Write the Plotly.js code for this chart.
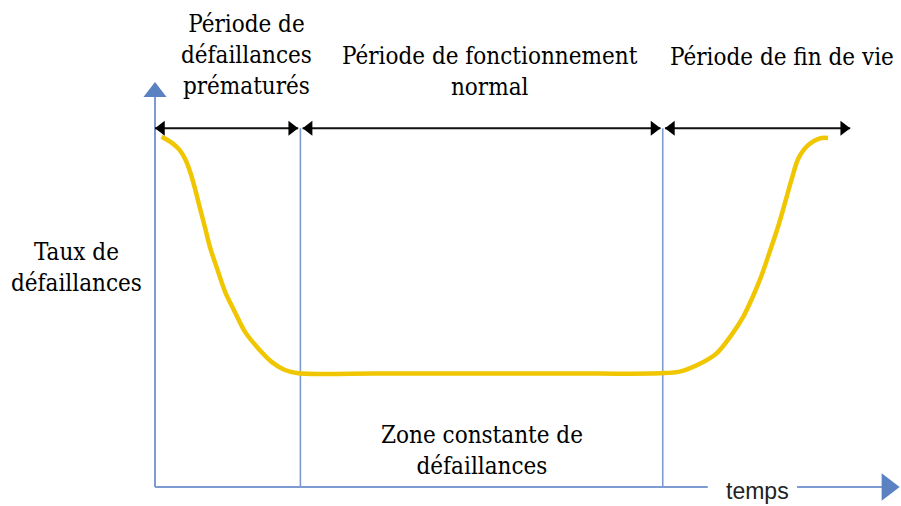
<!DOCTYPE html>
<html>
<head>
<meta charset="utf-8">
<script src="https://cdn.plot.ly/plotly-3.0.1.min.js"></script>
<style>
  html, body { margin: 0; padding: 0; background: #fff; }
  #bathtub { width: 901px; height: 506px; }
</style>
</head>
<body>
<div id="bathtub"></div>
<script>
// Failure rate curve (time and rate in arbitrary units, 0..100)
var curveTime = [0.9, 2.2, 3.3, 4.1, 4.8, 5.4, 6.1, 6.8, 7.5, 8.4, 9.5, 10.8, 12.2, 14.0, 15.8, 17.6, 19.4,
                 30.0, 44.0, 57.0,
                 68.4, 71.1, 73.9, 76.1, 78.1, 79.7, 81.1, 82.2, 83.3, 84.5, 85.4, 86.3, 87.2, 88.5, 90.1, 91.2];
var curveRate = [86.5, 85.1, 83.3, 80.9, 77.6, 73.8, 68.8, 63.9, 58.9, 54.0, 48.2, 43.3, 38.3, 34.2, 30.9, 28.9, 28.1,
                 28.0, 28.0, 28.0,
                 28.1, 28.5, 30.5, 33.0, 37.5, 42.0, 47.4, 52.3, 58.1, 64.7, 70.4, 76.2, 81.2, 84.4, 86.1, 86.2];

// limits of the three periods (early failures, normal use, end of life)
var periodEdges = [0, 19.7, 68.8, 94.2];
var periodRowRate = 88.6;

// pixels per unit, to place the arrow heads by their tips
var pxX = 7.38, pxY = 4.05;

var axisBlue = '#7d9bd0';
var headBlue = '#5a82c2';

// black double arrows over each period
var arrowX = [], arrowY = [], leftX = [], rightX = [], headY = [];
var gap = 0.3, headSize = 13, headR = headSize / 2;
for (var i = 0; i < periodEdges.length - 1; i++) {
  var a = periodEdges[i] + (i === 0 ? 0 : gap);
  var b = periodEdges[i + 1] - (i === periodEdges.length - 2 ? 0 : gap);
  arrowX.push(a, b, null);
  arrowY.push(periodRowRate, periodRowRate, null);
  leftX.push(a + headR / pxX);
  rightX.push(b - headR / pxX);
  headY.push(periodRowRate);
}

var yTip = 100, xTip = 100.9;
var data = [
  // vertical period separators
  {
    x: [periodEdges[1], periodEdges[1], null, periodEdges[2], periodEdges[2]],
    y: [0, periodRowRate, null, 0, periodRowRate],
    mode: 'lines', line: {color: axisBlue, width: 1.6}
  },
  // axes (x axis broken around the "temps" label)
  {
    x: [0, 0, null, 0, 74.9, null, 87.0, xTip - 16 / pxX],
    y: [yTip - 14 / pxY, 0, null, 0, 0, null, 0, 0],
    mode: 'lines', line: {color: axisBlue, width: 2}
  },
  {
    x: [0], y: [yTip - 10 / pxY],
    mode: 'markers', marker: {symbol: 'triangle-up', size: 20, color: headBlue}
  },
  {
    x: [xTip - 12 / pxX], y: [0],
    mode: 'markers', marker: {symbol: 'triangle-right', size: 24, color: headBlue}
  },
  // the bathtub curve
  {
    x: curveTime, y: curveRate,
    mode: 'lines', line: {color: 'rgb(240,198,0)', width: 4.5, shape: 'spline', smoothing: 0.9}
  },
  // period arrows
  {
    x: arrowX, y: arrowY,
    mode: 'lines', line: {color: '#111', width: 2}
  },
  {
    x: leftX, y: headY,
    mode: 'markers', marker: {symbol: 'triangle-left', size: headSize, color: '#000'}
  },
  {
    x: rightX, y: headY,
    mode: 'markers', marker: {symbol: 'triangle-right', size: headSize, color: '#000'}
  }
];

var serif = {family: '"DejaVu Serif Condensed", "DejaVu Serif", serif', size: 24, color: '#000'};

function label(text, x, y) {
  return {text: text, x: x, y: y, xref: 'x', yref: 'y', showarrow: false,
          xanchor: 'center', yanchor: 'middle', align: 'center', font: serif};
}

var layout = {
  width: 901,
  height: 506,
  margin: {l: 0, r: 0, t: 0, b: 0},
  paper_bgcolor: '#fff',
  plot_bgcolor: '#fff',
  showlegend: false,
  xaxis: {range: [-155 / pxX, 746 / pxX], visible: false, fixedrange: true},
  yaxis: {range: [-19 / pxY, 487 / pxY], visible: false, fixedrange: true},
  annotations: [
    label('Période de<br>défaillances<br>prématurés', 12.4, 106.6),
    label('Période de fonctionnement<br>normal', 45.4, 102.5),
    label('Période de fin de vie', 84.9, 106.2),
    label('Taux de<br>défaillances', -10.6, 54.3),
    label('Zone constante de<br>défaillances', 44.3, 9.1),
    {text: 'temps', x: 81.7, y: -0.9, xref: 'x', yref: 'y', showarrow: false,
     xanchor: 'center', yanchor: 'middle',
     font: {family: 'Liberation Sans, Arial, sans-serif', size: 23, color: '#222'}}
  ]
};

Plotly.newPlot('bathtub', data, layout, {displayModeBar: false, staticPlot: true});
</script>
</body>
</html>
